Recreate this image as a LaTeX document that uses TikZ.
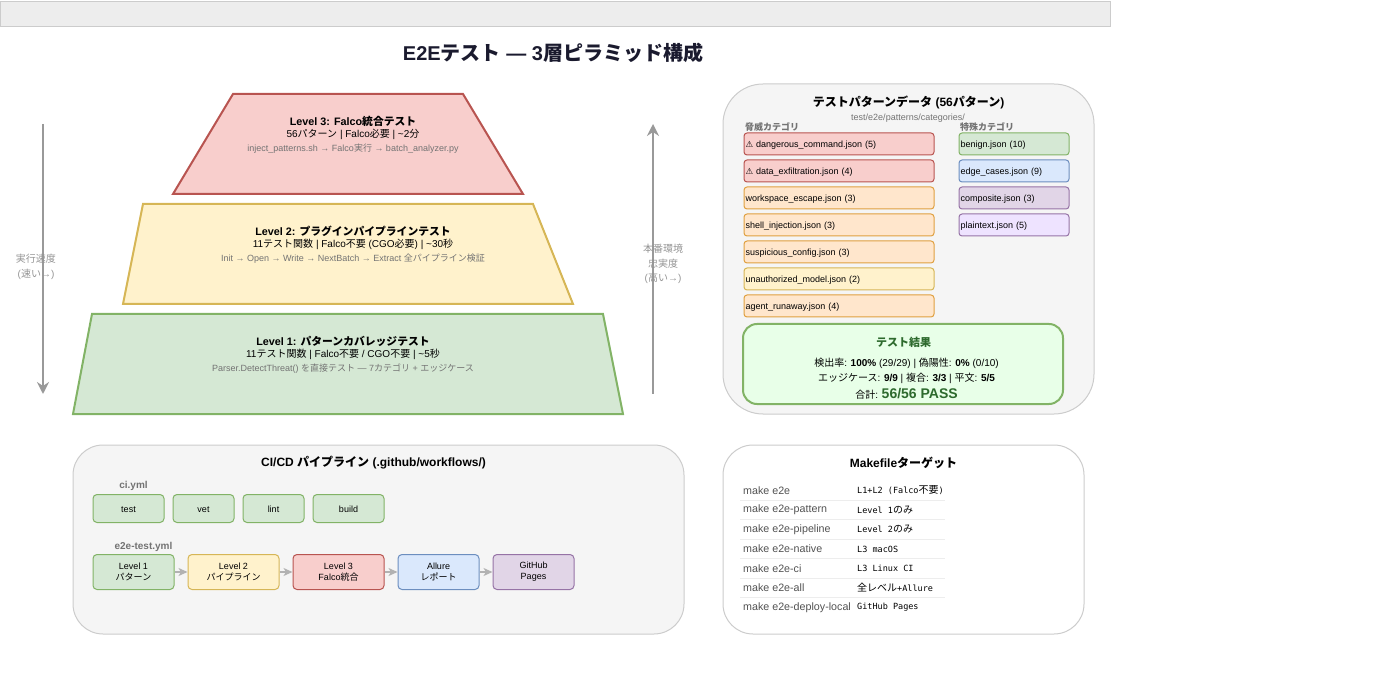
\documentclass[tikz,border=0pt]{standalone}
\usepackage{fontspec}
\setmainfont{Liberation Sans}
\newfontfamily\cjk{Noto Sans CJK JP}
\newfontfamily\symfont{DejaVu Sans}
\newfontfamily\codefont{DejaVu Sans Mono}
\newcommand{\ja}[1]{{\cjk #1}}
\newcommand{\jab}[1]{{\cjk\fontsize{10}{10}\selectfont #1}}
\newcommand{\warn}{{\symfont\fontsize{8.5}{10}\selectfont ⚠}}
\newcommand{\fsize}[1]{\fontsize{#1}{#1}\selectfont}
\definecolor{redfill}{HTML}{F8CECC}\definecolor{redline}{HTML}{B85450}
\definecolor{yelfill}{HTML}{FFF2CC}\definecolor{yelline}{HTML}{D6B656}
\definecolor{grnfill}{HTML}{D5E8D4}\definecolor{grnline}{HTML}{82B366}
\definecolor{orgfill}{HTML}{FFE6CC}\definecolor{orgline}{HTML}{E0A040}
\definecolor{blufill}{HTML}{DAE8FC}\definecolor{bluline}{HTML}{6C8EBF}
\definecolor{purfill}{HTML}{E1D5E7}\definecolor{purline}{HTML}{9673A6}
\definecolor{lilfill}{HTML}{EEE3FF}
\definecolor{passfill}{HTML}{E8FFE8}\definecolor{passtext}{HTML}{2D6A2D}
\definecolor{panelfill}{HTML}{F5F5F5}\definecolor{titleink}{HTML}{1A1A2E}
\tikzset{
  layer/.style={line width=2pt, line join=miter},
  head/.style={font=\bfseries\fsize{10.8}, text=black},
  sub/.style={font=\fsize{10}, text=black, yshift=-0.8pt},
  detail/.style={font=\fsize{9}, text=black!55, yshift=-0.8pt},
  side/.style={font=\fsize{10}, text=black!42, yshift=-0.8pt},
  trend/.style={line width=2pt, draw=black!40, -{Stealth[length=12pt,width=12pt,inset=4pt]}},
  panel/.style={draw=black!20, line width=1pt, rounded corners=30pt, inner sep=0pt},
  paneltitle/.style={font=\bfseries\fsize{12}, text=black, yshift=-0.8pt},
  group/.style={font=\bfseries\fsize{9}, text=black!55},
  patbox/.style={draw, line width=1pt, rounded corners=3pt, minimum height=22pt, inner sep=1.5pt, text height=8pt, text depth=1pt, align=left, font=\fsize{9}, anchor=west},
  wide/.style={patbox, minimum width=190pt, text width=187pt},
  thin/.style={patbox, minimum width=110pt, text width=107pt},
  job/.style={draw=grnline, fill=grnfill, line width=1pt, rounded corners=4pt, minimum height=28pt, inner sep=0pt, text height=7pt, text depth=0pt, font=\fsize{9}},
  stage/.style={draw, line width=1pt, rounded corners=4pt, minimum height=35pt, inner sep=0pt, align=center, font=\fsize{9}},
  flow/.style={line width=1.5pt, draw=black!30, -{Stealth[length=9pt,width=8pt,inset=2.5pt]}},
  target/.style={anchor=west, font=\fsize{10.7}, text=black!68},
  action/.style={anchor=west, font=\fsize{8.5}\codefont, text=black},
  rowline/.style={draw=black!7, line width=1pt}
}
\usetikzlibrary{arrows.meta}
\begin{document}
\begin{tikzpicture}[x=1pt, y=-1pt]
  \useasboundingbox (0,0) rectangle (1400,700);
  \node[draw=black!20, fill=black!7, line width=1pt, minimum width=1109.5pt, minimum height=25pt, inner sep=0pt, anchor=north west] (topbar) at (0,1) {};
  \node[font=\bfseries\fsize{20}, text=titleink] (title) at (553,53) {E2E\ja{テスト} — 3\ja{層ピラミッド構成}};

  % Pyramid
  \draw[layer, draw=redline, fill=redfill] (233,94) -- (463,94) -- (523,194) -- (173,194) -- cycle;
  \node[head] (l3head) at (353,121) {Level 3: Falco\ja{統合テスト}};
  \node[sub] (l3sub) at (353,134) {56\ja{パターン} | Falco\ja{必要} | \textasciitilde 2\ja{分}};
  \node[detail] (l3det) at (353,148) {inject\_patterns.sh → Falco\ja{実行} → batch\_analyzer.py};

  \draw[layer, draw=yelline, fill=yelfill] (143,204) -- (533,204) -- (573,304) -- (123,304) -- cycle;
  \node[head] (l2head) at (353,231) {Level 2: \ja{プラグインパイプラインテスト}};
  \node[sub] (l2sub) at (353,244) {11\ja{テスト関数} | Falco\ja{不要} (CGO\ja{必要}) | \textasciitilde 30\ja{秒}};
  \node[detail] (l2det) at (353,258) {Init → Open → Write → NextBatch → Extract \ja{全パイプライン検証}};

  \draw[layer, draw=grnline, fill=grnfill] (92,314) -- (603,314) -- (623,414) -- (73,414) -- cycle;
  \node[head] (l1head) at (343,341) {Level 1: \ja{パターンカバレッジテスト}};
  \node[sub] (l1sub) at (343,354) {11\ja{テスト関数} | Falco\ja{不要} / CGO\ja{不要} | \textasciitilde 5\ja{秒}};
  \node[detail] (l1det) at (343,368) {Parser.DetectThreat() \ja{を直接テスト} — 7\ja{カテゴリ} + \ja{エッジケース}};

  % Side arrows
  \coordinate (speedtop) at (43,124);
  \coordinate (speedend) at (43,394);
  \coordinate (realbase) at (653,394);
  \coordinate (realend) at (653,124);
  \draw[trend] (speedtop) -- (speedend);
  \draw[trend] (realbase) -- (realend);
  \node[side] (speed1) at (36,258) {\ja{実行速度}};
  \node[side] (speed2) at (36,274) {(\ja{速い}→)};
  \node[side] (real1) at (663,248) {\ja{本番環境}};
  \node[side] (real2) at (663,263) {\ja{忠実度}};
  \node[side] (real3) at (663,278) {(\ja{高い}→)};

  % Test patterns
  \node[panel, rounded corners=40pt, fill=panelfill, minimum width=371pt, minimum height=330pt] (patpanel) at (908.5,249) {};
  \node[paneltitle] (pattitle) at (908.5,102) {\ja{テストパターンデータ} (56\ja{パターン})};
  \node[font=\fsize{9}, text=black!55] (patpath) at (908,118) {test/e2e/patterns/categories/};
  \node[group, anchor=west, inner sep=0pt] (threat) at (745,127) {\ja{脅威カテゴリ}};
  \node[group, anchor=west, inner sep=0pt] (special) at (960,127) {\ja{特殊カテゴリ}};

  \node[wide, draw=redline, fill=redfill] (dangerous) at (743.5,144) {\warn\ dangerous\_command.json (5)};
  \node[wide, draw=redline, fill=redfill] (exfil) at (743.5,171) {\warn\ data\_exfiltration.json (4)};
  \node[wide, draw=orgline, fill=orgfill] (escape) at (743.5,198) {workspace\_escape.json (3)};
  \node[wide, draw=orgline, fill=orgfill] (shell) at (743.5,225) {shell\_injection.json (3)};
  \node[wide, draw=orgline, fill=orgfill] (suspicious) at (743.5,252) {suspicious\_config.json (3)};
  \node[wide, draw=yelline, fill=yelfill] (model) at (743.5,279) {unauthorized\_model.json (2)};
  \node[wide, draw=orgline, fill=orgfill] (runaway) at (743.5,306) {agent\_runaway.json (4)};

  \node[thin, draw=grnline, fill=grnfill] (benign) at (958.5,144) {benign.json (10)};
  \node[thin, draw=bluline, fill=blufill] (edge) at (958.5,171) {edge\_cases.json (9)};
  \node[thin, draw=purline, fill=purfill] (composite) at (958.5,198) {composite.json (3)};
  \node[thin, draw=purline, fill=lilfill] (plain) at (958.5,225) {plaintext.json (5)};

  % Results
  \node[draw=grnline, fill=passfill, line width=2pt, rounded corners=14pt, minimum width=320pt, minimum height=80pt, inner sep=0pt] (result) at (903,364) {};
  \node[font=\bfseries\fsize{11}, text=passtext] (restitle) at (903.5,342) {\ja{テスト結果}};
  \node[font=\fsize{10}] (res1) at (906.5,363) {\ja{検出率}: \textbf{100\%} (29/29) | \ja{偽陽性}: \textbf{0\%} (0/10)};
  \node[font=\fsize{10}] (res2) at (906.5,378.5) {\ja{エッジケース}: \textbf{9/9} | \ja{複合}: \textbf{3/3} | \ja{平文}: \textbf{5/5}};
  \node[font=\fsize{10}] (res3) at (906.5,393.5) {\ja{合計}: \textcolor{passtext}{\bfseries\fsize{14}56/56 PASS}};

  % CI/CD
  \node[panel, fill=panelfill, minimum width=611pt, minimum height=189pt] (cipanel) at (378.5,539.5) {};
  \node[paneltitle] (cititle) at (373.5,462) {CI/CD \ja{パイプライン} (.github/workflows/)};
  \node[group, font=\bfseries\fsize{10}] (ciyml) at (133.5,486) {ci.yml};
  \node[job, minimum width=71pt] (test) at (128.5,508.5) {test};
  \node[job, minimum width=61pt] (vet) at (203.5,508.5) {vet};
  \node[job, minimum width=61pt] (lint) at (273.5,508.5) {lint};
  \node[job, minimum width=71pt] (build) at (348.5,508.5) {build};
  \node[group, font=\bfseries\fsize{10}] (e2eyml) at (143.5,547) {e2e-test.yml};
  \node[stage, draw=grnline, fill=grnfill, minimum width=81pt] (stage1) at (133.5,572) {Level 1\\[2pt]\ja{パターン}};
  \node[stage, draw=yelline, fill=yelfill, minimum width=91pt] (stage2) at (233.5,572) {Level 2\\[2pt]\ja{パイプライン}};
  \node[stage, draw=redline, fill=redfill, minimum width=91pt] (stage3) at (338.5,572) {Level 3\\[2pt]Falco\ja{統合}};
  \node[stage, draw=bluline, fill=blufill, minimum width=81pt] (stage4) at (438.5,572) {Allure\\[2pt]\ja{レポート}};
  \node[stage, draw=purline, fill=purfill, minimum width=81pt] (stage5) at (533.5,572) {GitHub\\[2pt]Pages};
  \draw[flow] (stage1) -- (stage2);
  \draw[flow] (stage2) -- (stage3);
  \draw[flow] (stage3) -- (stage4);
  \draw[flow] (stage4) -- (stage5);

  % Makefile
  \node[panel, fill=white, minimum width=361pt, minimum height=189pt] (makepanel) at (903.5,539.5) {};
  \node[paneltitle] (maketitle) at (903.5,462) {Makefile\ja{ターゲット}};
  \node[target, inner sep=0pt] (t1) at (743,490.5) {make e2e};
  \node[target, inner sep=0pt] (t2) at (743,510) {make e2e-pattern};
  \node[target, inner sep=0pt] (t3) at (743,529.5) {make e2e-pipeline};
  \node[target, inner sep=0pt] (t4) at (743,549) {make e2e-native};
  \node[target, inner sep=0pt] (t5) at (743,568.5) {make e2e-ci};
  \node[target, inner sep=0pt] (t6) at (743,587.5) {make e2e-all};
  \node[target, inner sep=0pt] (t7) at (743,607.5) {make e2e-deploy-local};
  \node[action, inner sep=0pt] (a1) at (857,490.5) {L1+L2 (Falco\jab{不要})};
  \node[action, inner sep=0pt] (a2) at (857,510) {Level 1\jab{のみ}};
  \node[action, inner sep=0pt] (a3) at (857,529.5) {Level 2\jab{のみ}};
  \node[action, inner sep=0pt] (a4) at (857,549) {L3 macOS};
  \node[action, inner sep=0pt] (a5) at (857,568.5) {L3 Linux CI};
  \node[action, inner sep=0pt] (a6) at (857,587.5) {\jab{全レベル}+Allure};
  \node[action, inner sep=0pt] (a7) at (857,607.5) {GitHub Pages};
  \coordinate (r1a) at (740,500); \coordinate (r1b) at (945,500);
  \coordinate (r2a) at (740,519.5); \coordinate (r2b) at (945,519.5);
  \coordinate (r3a) at (740,539); \coordinate (r3b) at (945,539);
  \coordinate (r4a) at (740,558.5); \coordinate (r4b) at (945,558.5);
  \coordinate (r5a) at (740,578); \coordinate (r5b) at (945,578);
  \coordinate (r6a) at (740,597.5); \coordinate (r6b) at (945,597.5);
  \draw[rowline] (r1a) -- (r1b);
  \draw[rowline] (r2a) -- (r2b);
  \draw[rowline] (r3a) -- (r3b);
  \draw[rowline] (r4a) -- (r4b);
  \draw[rowline] (r5a) -- (r5b);
  \draw[rowline] (r6a) -- (r6b);
\end{tikzpicture}
\end{document}
